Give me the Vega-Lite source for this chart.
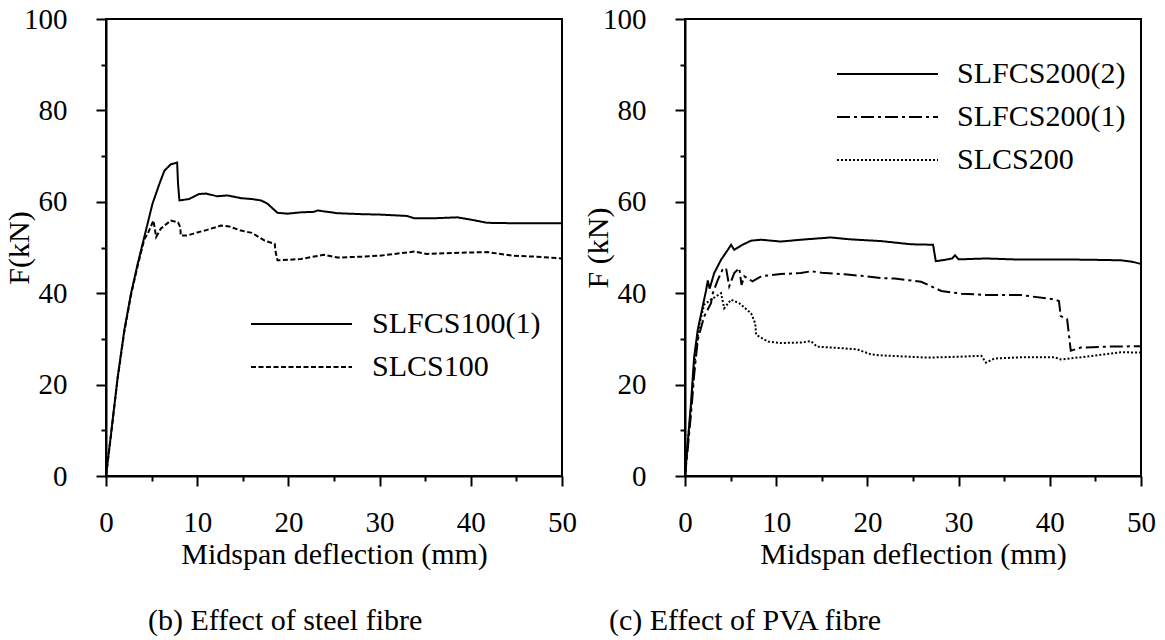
{
  "$schema": "https://vega.github.io/schema/vega-lite/v6.json",
  "background": "white",
  "padding": {"left": 3, "top": 4, "right": 5, "bottom": 5},
  "bounds": "flush",
  "spacing": 123,
  "config": {
    "font": "Liberation Serif",
    "view": {"stroke": "black", "strokeWidth": 2},
    "mark": {"color": "black"},
    "axis": {
      "domainColor": "black", "domainWidth": 2, "tickColor": "black", "tickWidth": 2,
      "labelColor": "black", "titleColor": "black", "labelFontSize": 29, "titleFontSize": 30,
      "labelFont": "Liberation Serif", "titleFont": "Liberation Serif", "titleFontWeight": "normal",
      "grid": false, "labelFlush": false, "labelOverlap": false
    },
    "legend": {
      "orient": "none", "title": null, "symbolType": "M-1,0H9.1", "symbolSize": 400,
      "symbolStrokeWidth": 2, "symbolStrokeColor": "black", "symbolFillColor": "transparent",
      "labelFontSize": 30, "labelLimit": 0,
      "labelFont": "Liberation Serif", "labelColor": "black", "padding": 0, "rowPadding": 13
    },
    "title": {"font": "Liberation Serif", "fontSize": 30, "fontWeight": "normal", "color": "black"}
  },
  "resolve": {"scale": {"strokeDash": "independent", "x": "independent", "y": "independent"}},
  "hconcat": [
    {
      "width": 456, "height": 457,
      "title": {"text": "(b) Effect of steel fibre", "orient": "bottom", "anchor": "start", "frame": "group", "dx": 42, "offset": 37, "font": "Liberation Serif"},
      "data": {"values": [
        {"series": "SLFCS100(1)", "x": 0, "y": 0},
        {"series": "SLFCS100(1)", "x": 0.55, "y": 9.2},
        {"series": "SLFCS100(1)", "x": 1.28, "y": 21.6},
        {"series": "SLFCS100(1)", "x": 2.0, "y": 31.8},
        {"series": "SLFCS100(1)", "x": 2.74, "y": 39.9},
        {"series": "SLFCS100(1)", "x": 3.47, "y": 46.4},
        {"series": "SLFCS100(1)", "x": 4.2, "y": 52.3},
        {"series": "SLFCS100(1)", "x": 5.1, "y": 59.6},
        {"series": "SLFCS100(1)", "x": 5.85, "y": 63.9},
        {"series": "SLFCS100(1)", "x": 6.4, "y": 66.8},
        {"series": "SLFCS100(1)", "x": 7.1, "y": 68.2},
        {"series": "SLFCS100(1)", "x": 7.5, "y": 68.4},
        {"series": "SLFCS100(1)", "x": 7.8, "y": 68.6},
        {"series": "SLFCS100(1)", "x": 7.9, "y": 63.9},
        {"series": "SLFCS100(1)", "x": 8.05, "y": 60.3},
        {"series": "SLFCS100(1)", "x": 9.1, "y": 60.6},
        {"series": "SLFCS100(1)", "x": 10.2, "y": 61.7},
        {"series": "SLFCS100(1)", "x": 11.0, "y": 61.8},
        {"series": "SLFCS100(1)", "x": 12.2, "y": 61.2},
        {"series": "SLFCS100(1)", "x": 13.3, "y": 61.4},
        {"series": "SLFCS100(1)", "x": 14.8, "y": 60.8},
        {"series": "SLFCS100(1)", "x": 16.0, "y": 60.6},
        {"series": "SLFCS100(1)", "x": 17.0, "y": 60.3},
        {"series": "SLFCS100(1)", "x": 17.7, "y": 59.6},
        {"series": "SLFCS100(1)", "x": 18.3, "y": 58.5},
        {"series": "SLFCS100(1)", "x": 18.8, "y": 57.6},
        {"series": "SLFCS100(1)", "x": 19.9, "y": 57.4},
        {"series": "SLFCS100(1)", "x": 21.4, "y": 57.7},
        {"series": "SLFCS100(1)", "x": 22.8, "y": 57.8},
        {"series": "SLFCS100(1)", "x": 23.2, "y": 58.1},
        {"series": "SLFCS100(1)", "x": 25.4, "y": 57.5},
        {"series": "SLFCS100(1)", "x": 28.0, "y": 57.3},
        {"series": "SLFCS100(1)", "x": 30.0, "y": 57.2},
        {"series": "SLFCS100(1)", "x": 33.0, "y": 56.9},
        {"series": "SLFCS100(1)", "x": 33.8, "y": 56.4},
        {"series": "SLFCS100(1)", "x": 36.0, "y": 56.4},
        {"series": "SLFCS100(1)", "x": 38.5, "y": 56.6},
        {"series": "SLFCS100(1)", "x": 40.0, "y": 56.1},
        {"series": "SLFCS100(1)", "x": 41.8, "y": 55.4},
        {"series": "SLFCS100(1)", "x": 45.0, "y": 55.3},
        {"series": "SLFCS100(1)", "x": 50.0, "y": 55.3},
        {"series": "SLCS100", "x": 0, "y": 0},
        {"series": "SLCS100", "x": 0.55, "y": 9.0},
        {"series": "SLCS100", "x": 1.28, "y": 21.4},
        {"series": "SLCS100", "x": 2.0, "y": 31.5},
        {"series": "SLCS100", "x": 2.74, "y": 39.6},
        {"series": "SLCS100", "x": 3.47, "y": 46.0},
        {"series": "SLCS100", "x": 4.2, "y": 51.8},
        {"series": "SLCS100", "x": 4.57, "y": 53.0},
        {"series": "SLCS100", "x": 5.2, "y": 55.9},
        {"series": "SLCS100", "x": 5.5, "y": 52.3},
        {"series": "SLCS100", "x": 6.0, "y": 54.1},
        {"series": "SLCS100", "x": 7.1, "y": 55.9},
        {"series": "SLCS100", "x": 7.9, "y": 55.5},
        {"series": "SLCS100", "x": 8.15, "y": 54.4},
        {"series": "SLCS100", "x": 8.2, "y": 52.6},
        {"series": "SLCS100", "x": 8.9, "y": 52.6},
        {"series": "SLCS100", "x": 10.0, "y": 53.3},
        {"series": "SLCS100", "x": 11.0, "y": 53.8},
        {"series": "SLCS100", "x": 12.6, "y": 54.8},
        {"series": "SLCS100", "x": 13.5, "y": 54.6},
        {"series": "SLCS100", "x": 14.8, "y": 53.7},
        {"series": "SLCS100", "x": 16.0, "y": 53.2},
        {"series": "SLCS100", "x": 17.4, "y": 51.5},
        {"series": "SLCS100", "x": 18.5, "y": 50.8},
        {"series": "SLCS100", "x": 18.6, "y": 49.0},
        {"series": "SLCS100", "x": 18.8, "y": 47.2},
        {"series": "SLCS100", "x": 20.0, "y": 47.3},
        {"series": "SLCS100", "x": 21.4, "y": 47.5},
        {"series": "SLCS100", "x": 23.9, "y": 48.4},
        {"series": "SLCS100", "x": 25.4, "y": 47.8},
        {"series": "SLCS100", "x": 28.0, "y": 48.0},
        {"series": "SLCS100", "x": 30.0, "y": 48.2},
        {"series": "SLCS100", "x": 33.8, "y": 49.1},
        {"series": "SLCS100", "x": 35.2, "y": 48.6},
        {"series": "SLCS100", "x": 38.0, "y": 48.8},
        {"series": "SLCS100", "x": 41.8, "y": 49.0},
        {"series": "SLCS100", "x": 44.7, "y": 48.2},
        {"series": "SLCS100", "x": 47.0, "y": 48.0},
        {"series": "SLCS100", "x": 50.0, "y": 47.6}
      ]},
      "mark": {"type": "line", "strokeWidth": 2, "clip": true},
      "encoding": {
        "x": {"field": "x", "type": "quantitative", "scale": {"domain": [0, 50], "nice": false, "zero": false},
          "axis": {"title": "Midspan deflection (mm)", "values": [0, 5, 10, 15, 20, 25, 30, 35, 40, 45, 50],
            "labelExpr": "datum.value % 10 === 0 ? datum.label : ''",
            "tickSize": {"condition": {"test": "datum.value % 10 === 0", "value": 10}, "value": 5},
            "labelFont": "Liberation Serif", "titleFont": "Liberation Serif",
            "labelPadding": 22, "titlePadding": 2}},
        "y": {"field": "y", "type": "quantitative", "scale": {"domain": [0, 100], "nice": false},
          "axis": {"title": "F(kN)", "values": [0, 10, 20, 30, 40, 50, 60, 70, 80, 90, 100],
            "labelExpr": "datum.value % 20 === 0 ? datum.label : ''",
            "tickSize": {"condition": {"test": "datum.value % 20 === 0", "value": 10}, "value": 5},
            "labelFont": "Liberation Serif", "titleFont": "Liberation Serif",
            "labelPadding": 29, "titlePadding": -11}},
        "strokeDash": {"field": "series", "type": "nominal",
          "scale": {"domain": ["SLFCS100(1)", "SLCS100"], "range": [[1, 0], [5, 2.5]]},
          "legend": {"legendX": 140, "legendY": 290, "labelOffset": 96, "labelFont": "Liberation Serif"}}
      }
    },
    {
      "width": 456, "height": 457,
      "title": {"text": "(c) Effect of PVA fibre", "orient": "bottom", "anchor": "start", "frame": "group", "dx": -76, "offset": 37, "font": "Liberation Serif"},
      "data": {"values": [
        {"series": "SLFCS200(2)", "x": 0, "y": 0},
        {"series": "SLFCS200(2)", "x": 0.33, "y": 8},
        {"series": "SLFCS200(2)", "x": 0.66, "y": 16},
        {"series": "SLFCS200(2)", "x": 1.0, "y": 26},
        {"series": "SLFCS200(2)", "x": 1.4, "y": 32},
        {"series": "SLFCS200(2)", "x": 1.94, "y": 37.1},
        {"series": "SLFCS200(2)", "x": 2.3, "y": 40.5},
        {"series": "SLFCS200(2)", "x": 2.5, "y": 42.8},
        {"series": "SLFCS200(2)", "x": 2.7, "y": 41.0},
        {"series": "SLFCS200(2)", "x": 3.2, "y": 44.4},
        {"series": "SLFCS200(2)", "x": 3.95, "y": 47.3},
        {"series": "SLFCS200(2)", "x": 4.7, "y": 49.5},
        {"series": "SLFCS200(2)", "x": 5.05, "y": 50.6},
        {"series": "SLFCS200(2)", "x": 5.4, "y": 49.5},
        {"series": "SLFCS200(2)", "x": 6.3, "y": 50.6},
        {"series": "SLFCS200(2)", "x": 7.25, "y": 51.5},
        {"series": "SLFCS200(2)", "x": 8.35, "y": 51.7},
        {"series": "SLFCS200(2)", "x": 10.5, "y": 51.3},
        {"series": "SLFCS200(2)", "x": 12.7, "y": 51.7},
        {"series": "SLFCS200(2)", "x": 14.0, "y": 51.9},
        {"series": "SLFCS200(2)", "x": 16.0, "y": 52.2},
        {"series": "SLFCS200(2)", "x": 18.0, "y": 51.8},
        {"series": "SLFCS200(2)", "x": 21.5, "y": 51.4},
        {"series": "SLFCS200(2)", "x": 24.8, "y": 50.7},
        {"series": "SLFCS200(2)", "x": 27.2, "y": 50.6},
        {"series": "SLFCS200(2)", "x": 27.5, "y": 47.0},
        {"series": "SLFCS200(2)", "x": 28.5, "y": 47.3},
        {"series": "SLFCS200(2)", "x": 29.3, "y": 47.6},
        {"series": "SLFCS200(2)", "x": 29.6, "y": 48.3},
        {"series": "SLFCS200(2)", "x": 30.0, "y": 47.4},
        {"series": "SLFCS200(2)", "x": 33.0, "y": 47.6},
        {"series": "SLFCS200(2)", "x": 36.0, "y": 47.4},
        {"series": "SLFCS200(2)", "x": 41.2, "y": 47.4},
        {"series": "SLFCS200(2)", "x": 45.0, "y": 47.3},
        {"series": "SLFCS200(2)", "x": 47.8, "y": 47.2},
        {"series": "SLFCS200(2)", "x": 49.0, "y": 46.9},
        {"series": "SLFCS200(2)", "x": 50.0, "y": 46.4},
        {"series": "SLFCS200(1)", "x": 0, "y": 0},
        {"series": "SLFCS200(1)", "x": 0.35, "y": 7},
        {"series": "SLFCS200(1)", "x": 0.7, "y": 14.5},
        {"series": "SLFCS200(1)", "x": 1.0, "y": 22},
        {"series": "SLFCS200(1)", "x": 1.4, "y": 29.8},
        {"series": "SLFCS200(1)", "x": 2.1, "y": 34.9},
        {"series": "SLFCS200(1)", "x": 2.85, "y": 37.8},
        {"series": "SLFCS200(1)", "x": 3.05, "y": 40.0},
        {"series": "SLFCS200(1)", "x": 3.6, "y": 42.9},
        {"series": "SLFCS200(1)", "x": 4.1, "y": 45.1},
        {"series": "SLFCS200(1)", "x": 4.5, "y": 45.5},
        {"series": "SLFCS200(1)", "x": 4.85, "y": 41.5},
        {"series": "SLFCS200(1)", "x": 5.4, "y": 44.4},
        {"series": "SLFCS200(1)", "x": 5.95, "y": 45.5},
        {"series": "SLFCS200(1)", "x": 6.2, "y": 41.8},
        {"series": "SLFCS200(1)", "x": 6.5, "y": 43.7},
        {"series": "SLFCS200(1)", "x": 7.4, "y": 42.6},
        {"series": "SLFCS200(1)", "x": 8.35, "y": 43.7},
        {"series": "SLFCS200(1)", "x": 10.5, "y": 44.2},
        {"series": "SLFCS200(1)", "x": 12.7, "y": 44.4},
        {"series": "SLFCS200(1)", "x": 13.8, "y": 44.8},
        {"series": "SLFCS200(1)", "x": 15.0, "y": 44.5},
        {"series": "SLFCS200(1)", "x": 17.8, "y": 44.1},
        {"series": "SLFCS200(1)", "x": 19.3, "y": 43.8},
        {"series": "SLFCS200(1)", "x": 21.5, "y": 43.3},
        {"series": "SLFCS200(1)", "x": 23.0, "y": 43.2},
        {"series": "SLFCS200(1)", "x": 25.9, "y": 42.5},
        {"series": "SLFCS200(1)", "x": 27.0, "y": 41.5},
        {"series": "SLFCS200(1)", "x": 28.1, "y": 40.5},
        {"series": "SLFCS200(1)", "x": 30.3, "y": 39.9},
        {"series": "SLFCS200(1)", "x": 33.0, "y": 39.6},
        {"series": "SLFCS200(1)", "x": 36.8, "y": 39.6},
        {"series": "SLFCS200(1)", "x": 40.3, "y": 38.7},
        {"series": "SLFCS200(1)", "x": 41.0, "y": 38.3},
        {"series": "SLFCS200(1)", "x": 41.2, "y": 35.0},
        {"series": "SLFCS200(1)", "x": 41.9, "y": 34.3},
        {"series": "SLFCS200(1)", "x": 42.3, "y": 27.4},
        {"series": "SLFCS200(1)", "x": 43.4, "y": 28.1},
        {"series": "SLFCS200(1)", "x": 46.0, "y": 28.3},
        {"series": "SLFCS200(1)", "x": 50.0, "y": 28.4},
        {"series": "SLCS200", "x": 0, "y": 0},
        {"series": "SLCS200", "x": 0.35, "y": 8},
        {"series": "SLCS200", "x": 0.7, "y": 16},
        {"series": "SLCS200", "x": 1.0, "y": 24},
        {"series": "SLCS200", "x": 1.6, "y": 33.4},
        {"series": "SLCS200", "x": 2.1, "y": 37.5},
        {"series": "SLCS200", "x": 2.85, "y": 38.6},
        {"series": "SLCS200", "x": 3.95, "y": 40.0},
        {"series": "SLCS200", "x": 4.3, "y": 36.7},
        {"series": "SLCS200", "x": 5.05, "y": 38.6},
        {"series": "SLCS200", "x": 5.95, "y": 37.8},
        {"series": "SLCS200", "x": 7.25, "y": 35.6},
        {"series": "SLCS200", "x": 7.7, "y": 33.4},
        {"series": "SLCS200", "x": 7.8, "y": 30.9},
        {"series": "SLCS200", "x": 9.1, "y": 29.4},
        {"series": "SLCS200", "x": 10.5, "y": 29.1},
        {"series": "SLCS200", "x": 12.7, "y": 29.2},
        {"series": "SLCS200", "x": 13.8, "y": 29.5},
        {"series": "SLCS200", "x": 14.5, "y": 28.3},
        {"series": "SLCS200", "x": 17.0, "y": 28.0},
        {"series": "SLCS200", "x": 18.9, "y": 27.7},
        {"series": "SLCS200", "x": 20.4, "y": 26.6},
        {"series": "SLCS200", "x": 21.5, "y": 26.4},
        {"series": "SLCS200", "x": 26.6, "y": 25.9},
        {"series": "SLCS200", "x": 30.0, "y": 26.1},
        {"series": "SLCS200", "x": 32.5, "y": 26.3},
        {"series": "SLCS200", "x": 33.0, "y": 24.8},
        {"series": "SLCS200", "x": 33.9, "y": 25.7},
        {"series": "SLCS200", "x": 37.0, "y": 26.0},
        {"series": "SLCS200", "x": 40.5, "y": 26.0},
        {"series": "SLCS200", "x": 41.2, "y": 25.5},
        {"series": "SLCS200", "x": 44.8, "y": 26.3},
        {"series": "SLCS200", "x": 47.8, "y": 27.1},
        {"series": "SLCS200", "x": 50.0, "y": 27.0}
      ]},
      "mark": {"type": "line", "strokeWidth": 2, "clip": true},
      "encoding": {
        "x": {"field": "x", "type": "quantitative", "scale": {"domain": [0, 50], "nice": false, "zero": false},
          "axis": {"title": "Midspan deflection (mm)", "values": [0, 5, 10, 15, 20, 25, 30, 35, 40, 45, 50],
            "labelExpr": "datum.value % 10 === 0 ? datum.label : ''",
            "tickSize": {"condition": {"test": "datum.value % 10 === 0", "value": 10}, "value": 5},
            "labelFont": "Liberation Serif", "titleFont": "Liberation Serif",
            "labelPadding": 22, "titlePadding": 2}},
        "y": {"field": "y", "type": "quantitative", "scale": {"domain": [0, 100], "nice": false},
          "axis": {"title": "F (kN)", "values": [0, 10, 20, 30, 40, 50, 60, 70, 80, 90, 100],
            "labelExpr": "datum.value % 20 === 0 ? datum.label : ''",
            "tickSize": {"condition": {"test": "datum.value % 20 === 0", "value": 10}, "value": 5},
            "labelFont": "Liberation Serif", "titleFont": "Liberation Serif",
            "labelPadding": 29, "titlePadding": -11}},
        "strokeDash": {"field": "series", "type": "nominal",
          "scale": {"domain": ["SLFCS200(2)", "SLFCS200(1)", "SLCS200"], "range": [[1, 0], [13, 4, 3, 4], [2, 2]]},
          "legend": {"legendX": 147, "legendY": 40, "labelOffset": 95, "labelFont": "Liberation Serif"}}
      }
    }
  ]
}
